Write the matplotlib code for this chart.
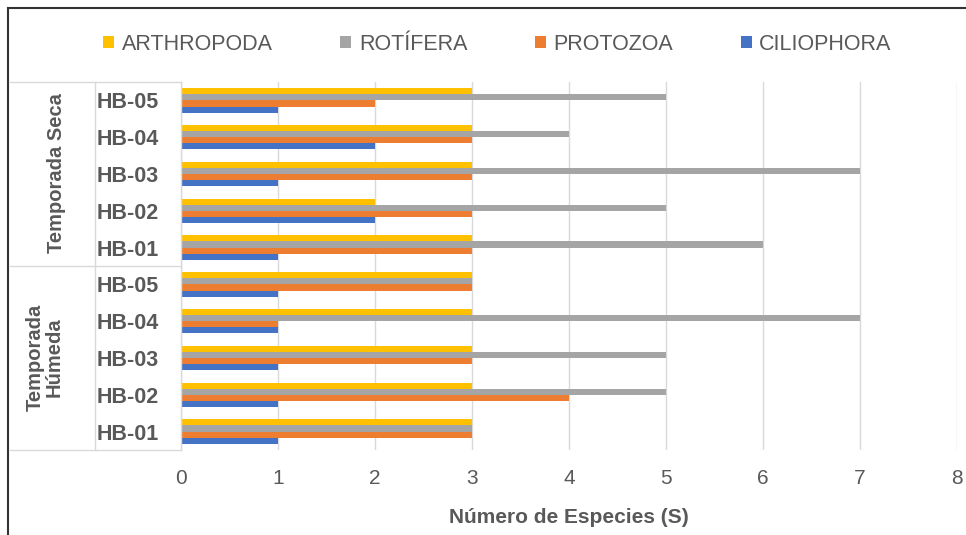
import numpy as np
import matplotlib.pyplot as plt
from matplotlib.lines import Line2D

# categories bottom -> top (Húmeda HB-01..HB-05, then Seca HB-01..HB-05)
sites = ['HB-01', 'HB-02', 'HB-03', 'HB-04', 'HB-05',
         'HB-01', 'HB-02', 'HB-03', 'HB-04', 'HB-05']
groups = ['Temporada\nHúmeda', 'Temporada Seca']

series = ['ARTHROPODA', 'ROTÍFERA', 'PROTOZOA', 'CILIOPHORA']
arthropoda = [3, 3, 3, 3, 3, 3, 2, 3, 3, 3]
rotifera   = [3, 5, 5, 7, 3, 6, 5, 7, 4, 5]
protozoa   = [3, 4, 3, 1, 3, 3, 3, 3, 3, 2]
ciliophora = [1, 1, 1, 1, 1, 1, 2, 1, 2, 1]

colors = ['#FFC000', '#A5A5A5', '#ED7D31', '#4472C4']
txt = '#595959'
gridc = '#D9D9D9'

plt.rcParams['font.family'] = ['Liberation Sans', 'DejaVu Sans']

W, H = 966, 535
fig = plt.figure(figsize=(W / 100, H / 100), dpi=100)
ax = fig.add_axes([181 / W, 1 - 450 / H, (957 - 181) / W, (450 - 82) / H])

y = np.arange(len(sites))
h = 0.166
vals = [arthropoda, rotifera, protozoa, ciliophora]
offs = [1.5, 0.5, -0.5, -1.5]
for v, o, c, n in zip(vals, offs, colors, series):
    ax.barh(y + o * h, v, height=h, color=c, label=n, zorder=3)

ax.set_xlim(0, 8)
ax.set_ylim(-0.5, len(sites) - 0.5)
ax.set_xticks(range(9))
ax.set_yticks(y)
ax.set_yticklabels(sites, fontsize=15.5, fontweight='bold', color=txt)
ax.tick_params(axis='y', length=0, pad=16)
ax.tick_params(axis='x', length=0, pad=14, labelsize=15, labelcolor=txt)
ax.grid(axis='x', color=gridc, lw=1, zorder=0)
for s in ax.spines.values():
    s.set_visible(False)
ax.set_xlabel('Número de Especies (S)', fontsize=15, fontweight='bold',
              color=txt, labelpad=14)

# category table lines
def fl(x0, y0, x1, y1, c=gridc, lw=1):
    fig.add_artist(Line2D([x0 / W, x1 / W], [1 - y0 / H, 1 - y1 / H],
                          color=c, lw=lw))

for yy in (82, 266, 450):
    fl(10, yy, 181, yy)
fl(95, 82, 95, 450)
fl(181, 82, 181, 450)

# group labels
fig.text(57 / W, 1 - 173 / H, groups[1], rotation=90, ha='center', va='center',
         fontsize=14.5, fontweight='bold', color=txt)
fig.text(45 / W, 1 - 357 / H, groups[0], rotation=90, ha='center', va='center',
         fontsize=14.5, fontweight='bold', color=txt, multialignment='center',
         linespacing=1.0)

# outer frame (top and left)
fl(8, 8, W, 8, c='#333333', lw=1.5)
fl(8, 8, 8, H, c='#333333', lw=1.5)

fig.legend(loc='center', bbox_to_anchor=(0.515, 1 - 44 / H), ncol=4,
           frameon=False, fontsize=15.5, labelcolor=txt,
           handlelength=0.5, handleheight=0.5, handletextpad=0.35,
           columnspacing=3.15)

fig.savefig('out.png', dpi=100)
